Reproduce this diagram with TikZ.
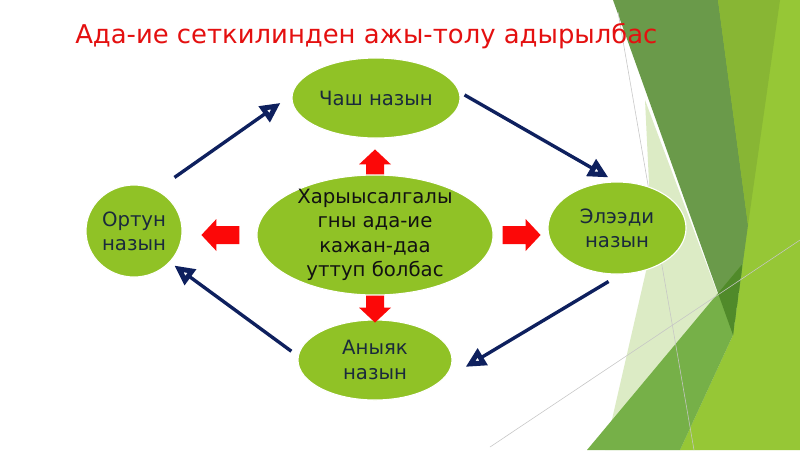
\documentclass[tikz,border=0pt]{standalone}
\usepackage{fontspec}
\setmainfont{DejaVu Sans}
\usetikzlibrary{shapes.geometric,arrows.meta,calc}
\definecolor{leafGreen}{RGB}{144,194,38}
\definecolor{titleRed}{RGB}{228,16,16}
\definecolor{arrowRed}{RGB}{252,8,8}
\definecolor{cycleNavy}{RGB}{14,32,94}
\definecolor{inkSlate}{RGB}{26,42,60}
\definecolor{inkBlack}{RGB}{18,18,18}
\definecolor{facetPale}{RGB}{220,235,197}
\definecolor{facetDark}{RGB}{106,154,74}
\definecolor{facetLeaf}{RGB}{136,182,52}
\definecolor{facetMid}{RGB}{118,176,72}
\definecolor{facetDeep}{RGB}{80,138,42}
\definecolor{facetLime}{RGB}{150,199,54}

\begin{document}
\begin{tikzpicture}[x=0.025cm,y=-0.025cm,
  bubble/.style={ellipse,fill=leafGreen,draw=white,line width=0.8pt,inner sep=0pt},
  bubbletext/.style={align=center,text=inkSlate,font=\fontsize{14}{17.3}\selectfont},
  cyclearrow/.style={draw=cycleNavy,line width=2.4pt,-{Triangle[open,length=0.5cm,width=0.46cm,line width=4.4pt]}},
  pics/redblock/.style={code={\fill[arrowRed] (0,-9) -- (#1,-9) -- (#1,-16) -- (#1+15,0) -- (#1,16) -- (#1,9) -- (0,9) -- cycle;}}]
\useasboundingbox[fill=white] (0,0) rectangle (800,450);

\fill[facetPale] (645,100) -- (733,335) -- (700,450) -- (605,450) -- (652,245) -- cycle;
\fill[facetLime] (718,0) -- (800,0) -- (800,450) -- (680,450) -- (733,335) -- cycle;
\fill[facetDark] (613,0) -- (718,0) -- (748,225) -- (733,335) -- cycle;
\fill[facetLeaf] (718,0) -- (780,0) -- (748,225) -- cycle;
\fill[facetMid] (587,450) -- (742.7,263.6) -- (733,335) -- (680,450) -- cycle;
\begin{scope}
\clip (613,0) -- (718,0) -- (748,225) -- (733,335) -- cycle;
\fill[facetDeep] (587,450) -- (742.7,263.6) -- (733,335) -- (680,450) -- cycle;
\end{scope}
\draw[gray!45,line width=0.4pt] (618,12) -- (694,450);
\draw[gray!45,line width=0.4pt] (490,447) -- (800,240);

\node[anchor=base west,inner sep=0pt,text=titleRed,font=\fontsize{18.4}{20}\selectfont] (heading) at (75,43) {Ада-ие сеткилинден ажы-толу адырылбас};

\node[bubble,minimum width=4.2cm,minimum height=2cm] (chash) at (376,98) {};
\node[bubbletext] at (chash) {Чаш назын};
\node[bubble,minimum width=5.9cm,minimum height=3cm] (harysal) at (375,235) {};
\node[bubbletext,text=inkBlack] at (harysal) {Харыысалгалы\\гны ада-ие\\кажан-даа\\уттуп болбас};
\node[bubble,minimum width=2.4cm,minimum height=2.3cm] (ortun) at (134,231) {};
\node[bubbletext] at (ortun) {Ортун\\назын};
\node[bubble,minimum width=3.45cm,minimum height=2.3cm] (eleedi) at (617,228) {};
\node[bubbletext] at (eleedi) {Элээди\\назын};
\node[bubble,minimum width=3.85cm,minimum height=2cm] (anyyak) at (375,360) {};
\node[bubbletext] at (anyyak) {Аныяк\\назын};

\pic[rotate=90] at (harysal.north) {redblock=10};
\pic[rotate=-90] at (harysal.south) {redblock=12};
\pic[rotate=180] at ($(harysal.west)+(-17,0)$) {redblock=23};
\pic at ($(harysal.east)+(9,0)$) {redblock=23};

\draw[cyclearrow,shorten <=0.54cm,shorten >=0.34cm] (ortun.61.5) -- (chash.178.8);
\draw[cyclearrow,shorten <=0.14cm,shorten >=0.2cm] (chash.4) -- (eleedi.92.6);
\draw[cyclearrow,shorten <=0.34cm,shorten >=0.75cm] (eleedi.274.6) -- (anyyak.341.8);
\draw[cyclearrow,shorten <=0.2cm,shorten >=0.135cm] (anyyak.177.5) -- (ortun.319.1);
\end{tikzpicture}
\end{document}
